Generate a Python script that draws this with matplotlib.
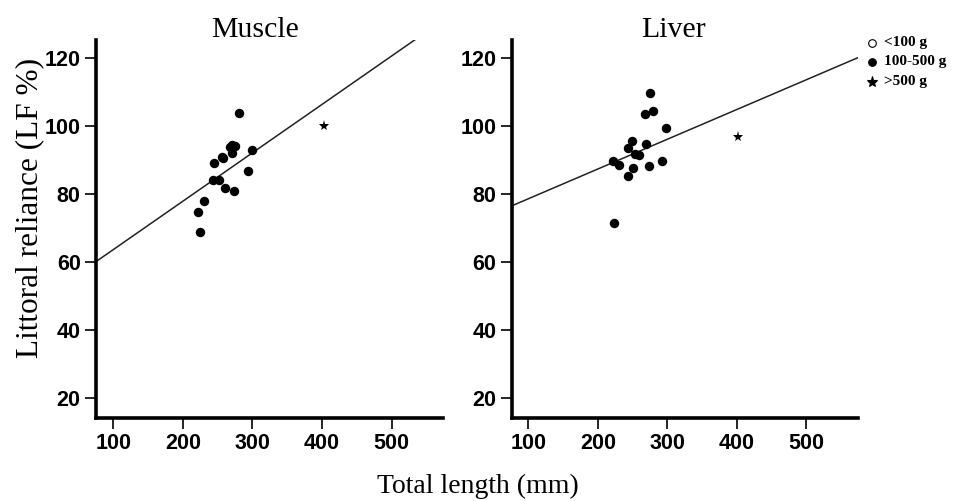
import matplotlib
matplotlib.use("Agg")
import matplotlib.pyplot as plt
from matplotlib.lines import Line2D
import numpy as np

# ---- data ----
muscle_len = [281, 271, 275, 268, 299, 270, 256, 258, 245, 293, 243, 252, 260, 274, 231, 222, 225]
muscle_lf = [103.8, 94.2, 94.0, 93.7, 92.8, 92.0, 90.8, 90.6, 89.0, 86.8, 84.0, 84.0, 81.8, 80.8, 77.9, 74.7, 68.6]
muscle_star_len = [403]
muscle_star_lf = [99.8]
muscle_fit = [60.0 - 0.1423 * 75, 0.1423]  # intercept, slope

liver_len = [275, 268, 280, 299, 250, 269, 244, 253, 259, 222, 231, 292, 274, 251, 244, 224]
liver_lf = [109.6, 103.4, 104.4, 99.4, 95.6, 94.5, 93.5, 91.6, 91.3, 89.6, 88.4, 89.6, 88.2, 87.4, 85.3, 71.3]
liver_star_len = [402]
liver_star_lf = [96.6]
liver_fit = [76.4 - 0.0874 * 76, 0.0874]

x_ticks = [100, 200, 300, 400, 500]
y_ticks = [20, 40, 60, 80, 100, 120]
legend_labels = ["<100 g", "100-500 g", ">500 g"]

serif = ["Liberation Serif", "DejaVu Serif"]
sans = ["Liberation Sans", "DejaVu Sans"]

fig = plt.figure(figsize=(9.58, 5.01), dpi=100)
fig.patch.set_facecolor("white")

W, H = 958, 501
def axrect(x0, x1, ytop, ybot):
    return [x0 / W, 1 - ybot / H, (x1 - x0) / W, (ybot - ytop) / H]

ax1 = fig.add_axes(axrect(96, 443, 40, 418))
ax2 = fig.add_axes(axrect(511.7, 858, 40, 418))

panels = [
    (ax1, "Muscle", 255, muscle_len, muscle_lf, muscle_star_len, muscle_star_lf, muscle_fit, (75, 574)),
    (ax2, "Liver", 673, liver_len, liver_lf, liver_star_len, liver_star_lf, liver_fit, (76, 575)),
]

for ax, title, tx, xl, yl, sx, sy, fit, xlim in panels:
    ax.set_xlim(*xlim)
    ax.set_ylim(14, 125.2)
    xs = np.array(xlim, dtype=float)
    ax.plot(xs, fit[0] + fit[1] * xs, color="#222222", lw=1.1, zorder=2, clip_on=True)
    ax.plot(xl, yl, "o", color="black", markersize=6.8, markeredgewidth=0, zorder=3)
    ax.plot(sx, sy, "*", color="black", markersize=8, markeredgewidth=0, zorder=3)
    for s in ["top", "right"]:
        ax.spines[s].set_visible(False)
    for s in ["left", "bottom"]:
        ax.spines[s].set_linewidth(2.6)
        ax.spines[s].set_capstyle("projecting")
    ax.set_xticks(x_ticks)
    ax.set_yticks(y_ticks)
    ax.tick_params(axis="both", direction="out", length=8, width=1.2, pad=3,
                   labelsize=15.5)
    for lab in ax.get_xticklabels() + ax.get_yticklabels():
        lab.set_fontweight("bold")
        lab.set_family(sans)
    fig.text(tx / W, 1 - 30 / H, title, ha="center", va="center",
             fontsize=21.5, family=serif)

fig.text(30 / W, 1 - 208 / H, "Littoral reliance (LF %)", rotation=90,
         ha="center", va="center", fontsize=22.5, family=serif)
fig.text(478 / W, 1 - 486 / H, "Total length (mm)", ha="center", va="center",
         fontsize=20, family=serif)

# legend
leg_y = [42.5, 62, 81.5]
leg_markers = [("o", "white"), ("o", "black"), ("*", "black")]
for (m, fc), lab, y in zip(leg_markers, legend_labels, leg_y):
    fig.add_artist(Line2D([872 / W], [1 - y / H], marker=m, markersize=5.5 if m == "o" else 8,
                          markerfacecolor=fc, markeredgecolor="black", markeredgewidth=0.8,
                          linestyle="none", transform=fig.transFigure))
    fig.text(884 / W, 1 - y / H, lab, ha="left", va="center", fontsize=11,
             fontweight="bold", family=serif)

fig.savefig("out.png", dpi=100, facecolor="white")
